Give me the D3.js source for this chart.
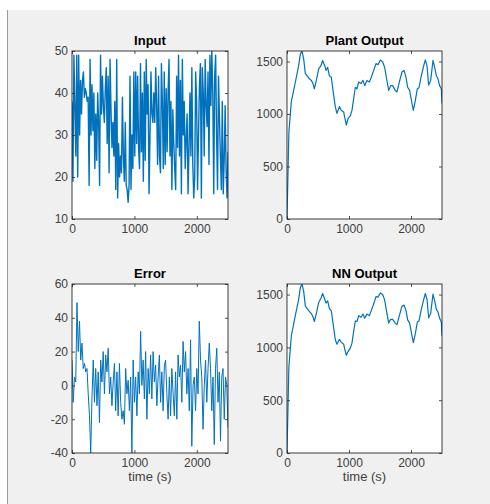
<!DOCTYPE html>
<html>
<head>
<meta charset="utf-8">
<script src="https://cdn.jsdelivr.net/npm/d3@7"></script>
<style>
  body { margin: 0; background: #fff; }
  svg { display: block; font-family: "Liberation Sans", Arial, sans-serif; }
  .tick text { fill: #404040; font-size: 12px; }
  .tick line { stroke: #262626; stroke-width: 0.8; }
</style>
</head>
<body>
<div id="fig"></div>
<script>
// Input signal (sampled evenly over 0..2500 s)
var inputVals = [38, 19, 49, 37, 25, 49, 20, 49, 30, 43, 35, 43, 45, 39, 41, 40, 38, 39, 18, 48,
  30, 42, 31, 40, 22, 35, 24, 40, 33, 18, 49, 35, 44, 37, 33, 41, 46, 28, 44, 21,
  48, 36, 27, 33, 25, 38, 17, 48, 15, 28, 20, 25, 21, 39, 25, 19, 33, 18, 17, 14,
  18, 44, 17, 30, 22, 45, 25, 45, 28, 44, 27, 22, 47, 26, 40, 19, 45, 24, 48, 35,
  42, 16, 30, 45, 35, 33, 40, 33, 46, 37, 23, 44, 25, 21, 47, 38, 22, 45, 23, 41,
  26, 40, 48, 25, 38, 17, 36, 28, 22, 17, 44, 27, 49, 25, 43, 16, 48, 30, 38, 22,
  29, 35, 16, 27, 40, 25, 46, 23, 15, 20, 45, 38, 17, 30, 42, 47, 15, 46, 40, 25,
  48, 37, 32, 45, 23, 49, 37, 50, 40, 16, 44, 49, 30, 17, 44, 34, 25, 17, 38, 16,
  24, 37, 22, 15, 26];

// Error signal (sampled every 20 s)
var errorVals = [15, -10, 5, 2, 49, 20, 38, 15, 25, 10, 13, 8, 10, -5, -18, -40, -8, 15, -10, 10,
  -12, 8, -22, 15, 2, 20, -5, 18, 8, 22, -5, 5, -12, 2, 13, -15, 8, -18, 13, -10,
  -20, -15, -23, 10, -5, 3, -15, 5, -40, 15, -10, 5, -18, 8, -5, 32, 0, 15, -8, 20,
  -20, 10, -5, 18, -8, 20, 2, 12, -12, 5, 18, -10, 8, -15, 12, 15, -5, -20, 5, -18,
  10, -5, -18, 8, -20, 18, 5, 12, -10, 26, 8, 20, -5, 10, -15, 27, -36, 0, 5, -15,
  10, -5, 38, 15, 5, -26, 0, 15, -10, 10, 25, 10, -15, 5, -35, 10, 22, -10, 8, -33,
  5, 10, -20, 5, 0, -25];

// Plant output
var plantT = [0, 30, 70, 134, 188, 215, 242, 269, 296, 323, 360, 392, 419, 441, 473, 511, 548, 575, 608, 629,
  656, 683, 715, 742, 780, 806, 844, 876, 914, 930, 957, 984, 1022, 1048, 1075, 1102, 1129, 1156, 1194, 1226,
  1253, 1290, 1328, 1360, 1398, 1435, 1468, 1505, 1543, 1575, 1602, 1640, 1672, 1704, 1747, 1774, 1812, 1855, 1887, 1919,
  1946, 1978, 2016, 2038, 2070, 2102, 2129, 2161, 2199, 2231, 2258, 2285, 2317, 2355, 2382, 2409, 2435, 2462, 2489, 2500];
var plantY = [0, 820, 1120, 1300, 1460, 1570, 1600, 1525, 1385, 1365, 1335, 1320, 1290, 1240, 1320, 1430, 1460, 1510, 1460, 1415,
  1445, 1365, 1350, 1225, 1065, 1005, 1070, 1035, 1020, 970, 895, 955, 985, 1035, 1145, 1255, 1240, 1305, 1290, 1320,
  1270, 1320, 1305, 1350, 1415, 1480, 1470, 1515, 1495, 1445, 1350, 1225, 1270, 1270, 1225, 1210, 1305, 1400, 1415, 1350,
  1255, 1225, 1100, 1035, 1130, 1240, 1250, 1350, 1445, 1515, 1460, 1275, 1320, 1510, 1445, 1365, 1335, 1270, 1240, 1100];

// NN output
var nnT = plantT;
var nnY = [0, 810, 1110, 1300, 1455, 1565, 1600, 1530, 1390, 1370, 1340, 1320, 1290, 1245, 1320, 1425, 1465, 1510, 1455, 1420,
  1440, 1370, 1345, 1230, 1070, 1030, 1075, 1050, 1030, 985, 925, 960, 995, 1040, 1150, 1250, 1245, 1300, 1285, 1315,
  1275, 1315, 1300, 1350, 1410, 1480, 1475, 1515, 1500, 1450, 1355, 1230, 1265, 1265, 1230, 1215, 1300, 1390, 1400, 1350,
  1260, 1230, 1110, 1045, 1130, 1240, 1250, 1345, 1440, 1510, 1455, 1280, 1320, 1505, 1440, 1360, 1335, 1275, 1240, 1110];

var xTicks = [0, 1000, 2000];
var inputTicks = [10, 20, 30, 40, 50];
var outTicks = [0, 500, 1000, 1500];
var errorTicks = [-40, -20, 0, 20, 40, 60];

function evenly(vals) {
  var step = 2500 / (vals.length - 1);
  return vals.map(function(v, i) { return [i * step, v]; });
}
function paired(t, y) {
  return t.map(function(v, i) { return [v, y[i]]; });
}
// plain numbers, hyphen minus, no thousands separator
var fmt = function(d) { return String(d); };

var svg = d3.select("#fig").append("svg")
    .attr("width", 490)
    .attr("height", 504);

// figure background
svg.append("rect").attr("x", 8).attr("y", 10).attr("width", 482).attr("height", 494).attr("fill", "#f0f0f0");
svg.append("line").attr("x1", 7.5).attr("x2", 7.5).attr("y1", 10).attr("y2", 504)
    .attr("stroke", "#9a9a9a").attr("stroke-width", 1);

var panels = [
  {title: "Input", data: evenly(inputVals), y: [10, 50], ticks: inputTicks, box: [72, 51, 228, 219], xl: false, w: 1.4},
  {title: "Plant Output", data: paired(plantT, plantY), y: [0, 1600], ticks: outTicks, box: [287, 51, 442, 219], xl: false, w: 1.2},
  {title: "Error", data: evenly(errorVals), y: [-40, 60], ticks: errorTicks, box: [72, 284, 228, 453], xl: true, w: 1},
  {title: "NN Output", data: paired(nnT, nnY), y: [0, 1600], ticks: outTicks, box: [287, 284, 442, 453], xl: true, w: 1.2}
];

panels.forEach(function(p, k) {
  var left = p.box[0], top = p.box[1],
      width = p.box[2] - p.box[0], height = p.box[3] - p.box[1];

  var x = d3.scaleLinear().domain([0, 2500]).range([0, width]);
  var y = d3.scaleLinear().domain(p.y).range([height, 0]);

  var g = svg.append("g").attr("transform", "translate(" + left + "," + top + ")");

  g.append("rect").attr("width", width).attr("height", height).attr("fill", "#fff");

  g.append("clipPath").attr("id", "clip" + k)
    .append("rect").attr("width", width).attr("height", height);

  var line = d3.line()
      .x(function(d) { return x(d[0]); })
      .y(function(d) { return y(d[1]); });

  g.append("path")
      .datum(p.data)
      .attr("clip-path", "url(#clip" + k + ")")
      .attr("fill", "none")
      .attr("stroke", "#0072BD")
      .attr("stroke-width", p.w)
      .attr("stroke-linejoin", "round")
      .attr("d", line);

  // axes, ticks pointing inward
  g.append("g")
      .attr("transform", "translate(0," + height + ")")
      .call(d3.axisBottom(x).tickValues(xTicks).tickFormat(fmt).tickSizeInner(-3).tickSizeOuter(0).tickPadding(5))
      .call(function(a) { a.select(".domain").remove(); });
  g.append("g")
      .call(d3.axisTop(x).tickValues(xTicks).tickSizeInner(-3).tickSizeOuter(0).tickFormat(""))
      .call(function(a) { a.select(".domain").remove(); });
  g.append("g")
      .call(d3.axisLeft(y).tickValues(p.ticks).tickFormat(fmt).tickSizeInner(-3).tickSizeOuter(0).tickPadding(4))
      .call(function(a) { a.select(".domain").remove(); });
  g.append("g")
      .attr("transform", "translate(" + width + ",0)")
      .call(d3.axisRight(y).tickValues(p.ticks).tickSizeInner(-3).tickSizeOuter(0).tickFormat(""))
      .call(function(a) { a.select(".domain").remove(); });

  g.selectAll(".tick text").attr("font-family", null).attr("font-size", null);

  g.append("rect")
      .attr("width", width).attr("height", height)
      .attr("fill", "none").attr("stroke", "#262626").attr("stroke-width", 0.9);

  g.append("text")
      .attr("x", width / 2).attr("y", -6)
      .attr("text-anchor", "middle")
      .attr("font-size", 13).attr("font-weight", "bold").attr("fill", "#000")
      .text(p.title);

  if (p.xl) {
    g.append("text")
        .attr("x", width / 2).attr("y", height + 28)
        .attr("text-anchor", "middle")
        .attr("font-size", 13).attr("fill", "#404040")
        .text("time (s)");
  }
});
</script>
</body>
</html>
